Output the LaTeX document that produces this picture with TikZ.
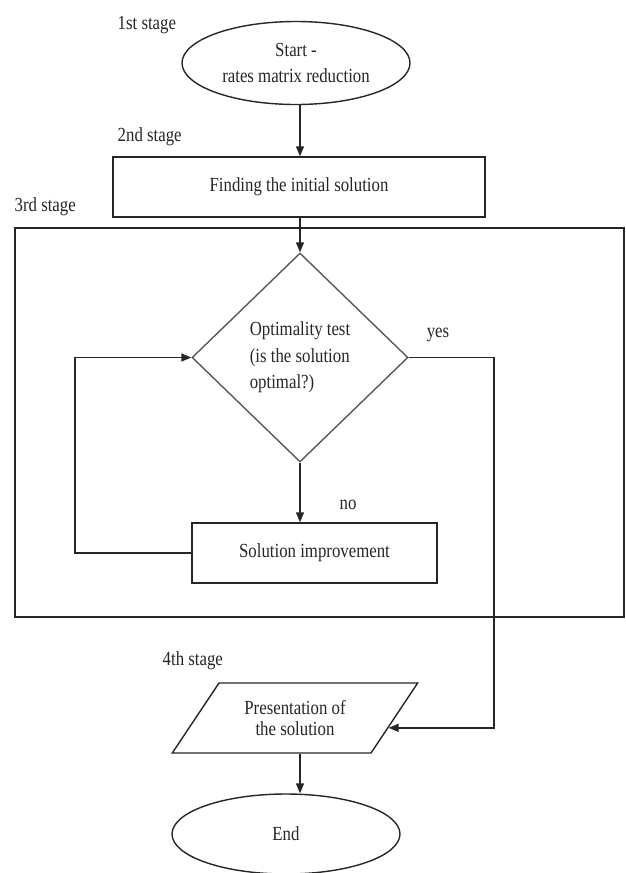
\documentclass[tikz,border=0pt]{standalone}
\usepackage{fontspec}
\setmainfont{Liberation Serif}[FakeStretch=0.84]
\usetikzlibrary{arrows.meta,shapes.geometric,positioning}
\tikzset{arrows={-{Triangle[length=10pt,width=8pt]}}}
\tikzset{
  every node/.style={font=\fontsize{20}{26.5}\selectfont},
  term/.style={ellipse, draw, inner sep=0pt, minimum width=228, minimum height=83, align=center},
  proc/.style={rectangle, draw, inner sep=0pt, minimum height=60, align=center},
  test/.style={diamond, draw=black!65, inner sep=0pt, minimum width=216, minimum height=209, align=left},
  io/.style={trapezium, trapezium left angle=49, trapezium right angle=131, trapezium stretches=true,
             draw, inner sep=0pt, minimum width=246, minimum height=70, align=center},
  stage/.style={anchor=west, inner sep=0pt}
}

\begin{document}
\begin{tikzpicture}[x=1pt, y=-1pt, line width=1.4pt, color=black!85]
    \useasboundingbox (0,0) rectangle (626,873);

    \node[term] (start) at (296,63) {Start -\\rates matrix reduction};
    \node[stage] (lab1) at (117,25) {1st stage};

    \node[proc, minimum width=372] (initsol) at (299,187) {Finding the initial solution};
    \node[stage] (lab2) at (117,137) {2nd stage};

    % 3rd stage frame
    \node[draw, minimum width=609, minimum height=389] (frame) at (319.5,422.5) {};
    \node[stage] (lab3) at (14,207) {3rd stage};

    \node[test] (opttest) at (300,357.5) {Optimality test\\(is the solution\\optimal?)};
    \node[proc, minimum width=245] (improve) at (314.5,553) {Solution improvement};
    \node (yes) at (438,335) {yes};
    \node (no) at (348,505) {no};

    \node[io, font=\fontsize{20}{21.5}\selectfont] (present) at (295,718) {Presentation of\\the solution};
    \node[stage] (lab4) at (162,661) {4th stage};
    \node[term, minimum height=80] (stop) at (286,834) {End};

    \coordinate (loop) at (75,553);
    \coordinate (yesx) at (494,0);

    \draw (start.south -| opttest) -- (initsol.north -| opttest);
    \draw (initsol.south -| opttest) -- (opttest.north);
    \draw (opttest.south) -- (improve.north -| opttest);
    \draw (improve.west) -- (loop) |- (opttest.west);
    \draw (opttest.east) -| (yesx |- present.-6) -- (present.-6);
    \draw (present.south -| opttest) -- (stop.north -| opttest);
\end{tikzpicture}
\end{document}
